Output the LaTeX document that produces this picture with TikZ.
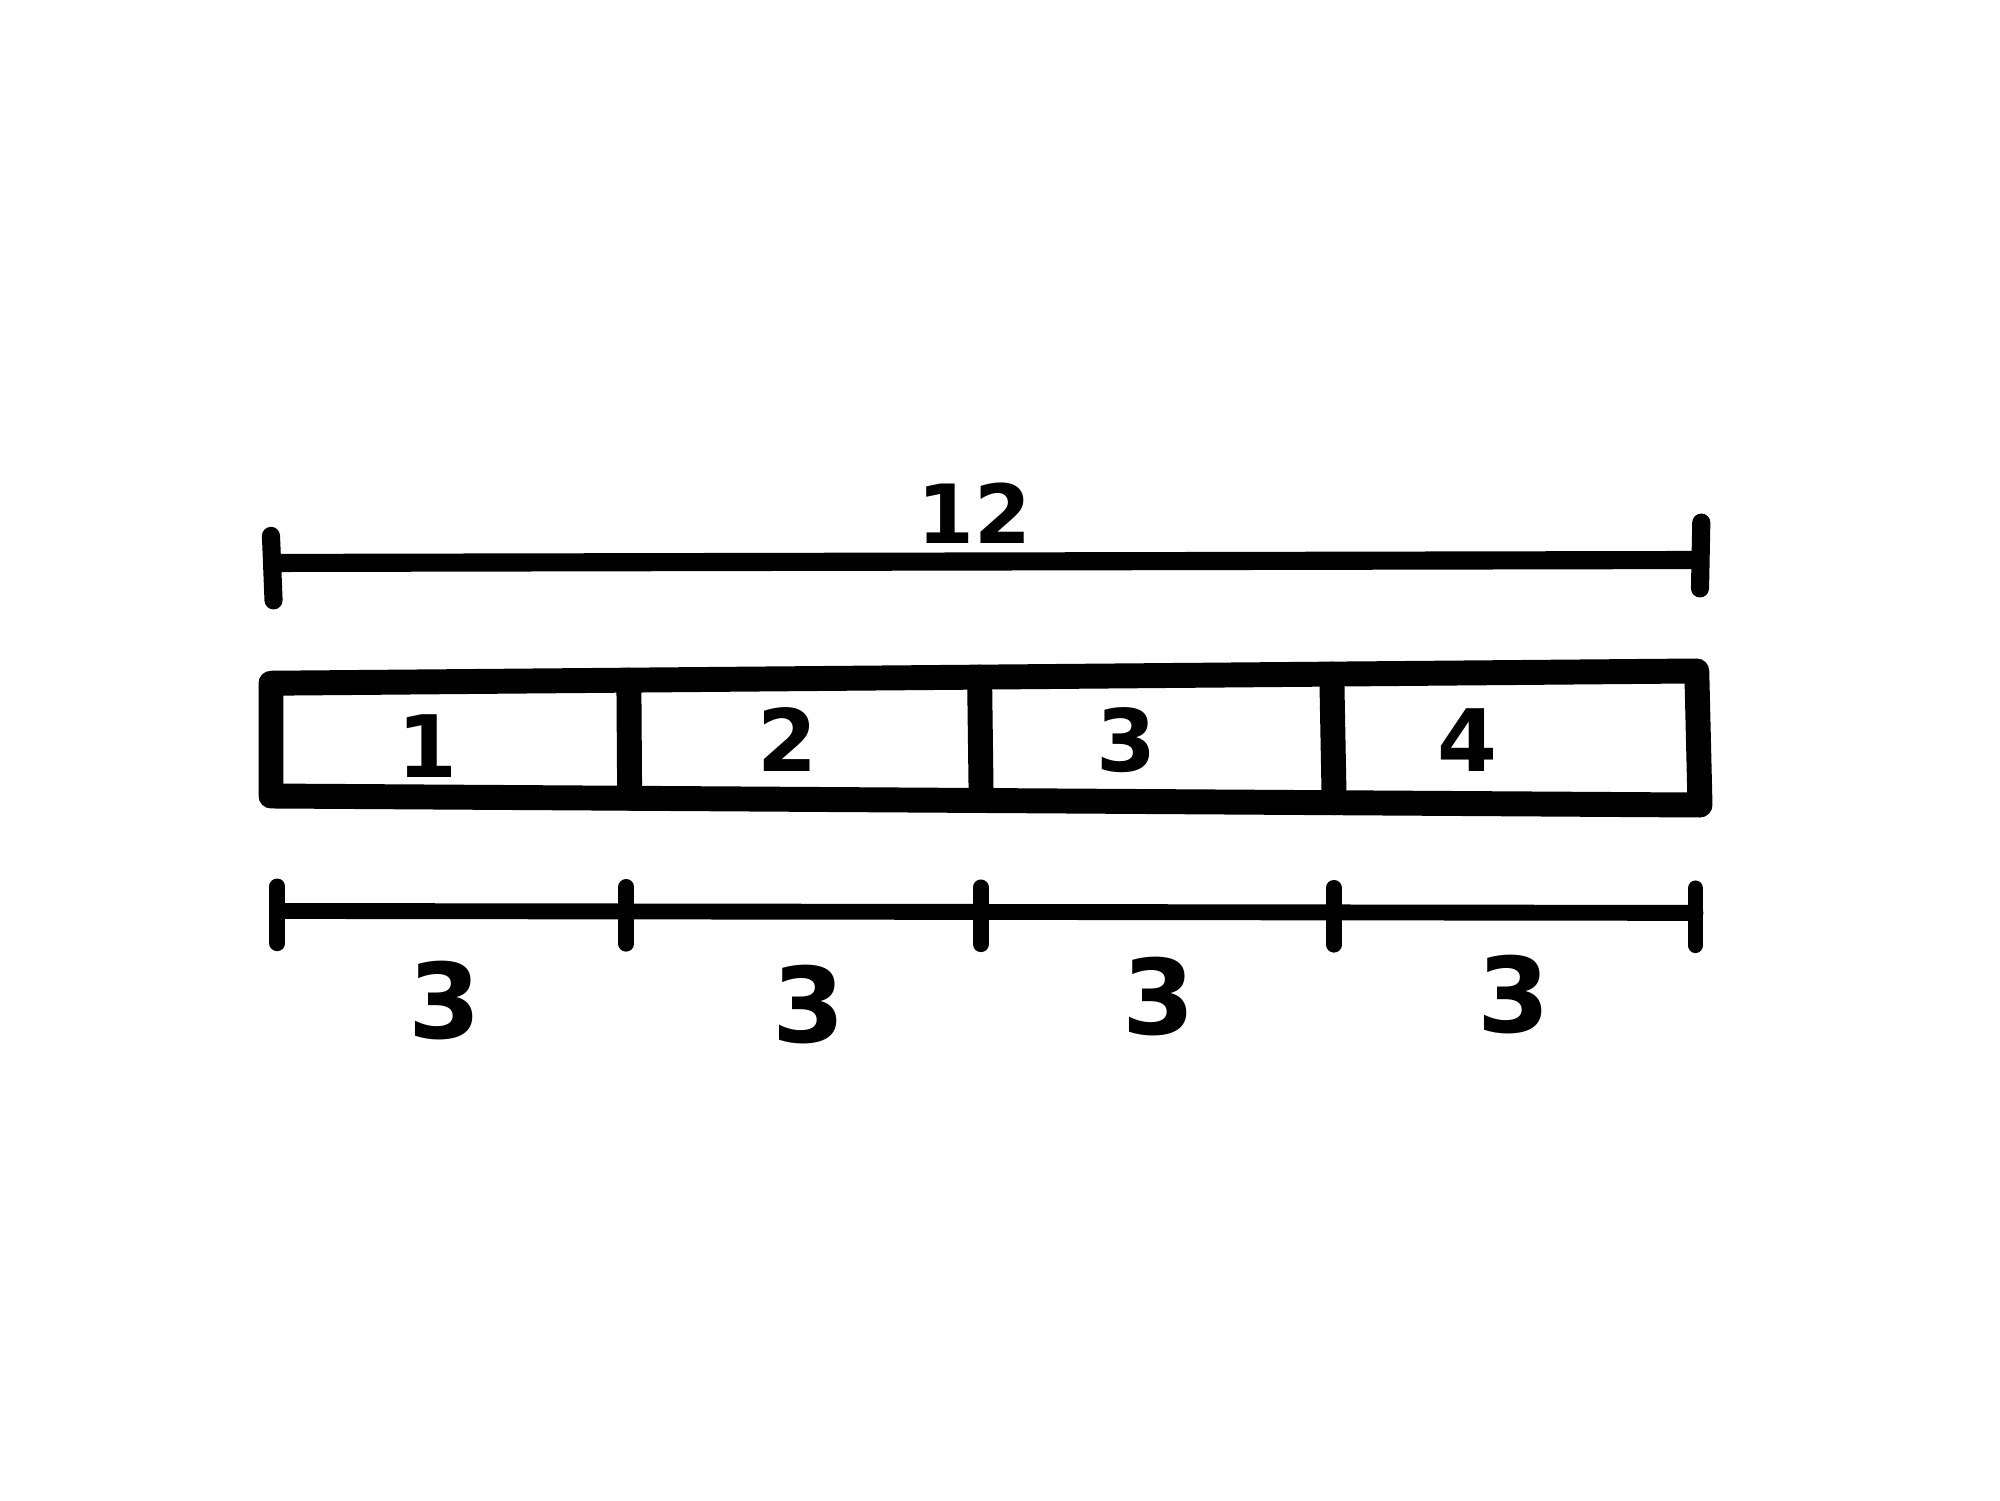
\documentclass[tikz,border=0pt]{standalone}
\usepackage{amsmath}
\usepackage{fontspec}
\setmainfont{DejaVu Sans}
\usetikzlibrary{calc}

\begin{document}
\begin{tikzpicture}[line cap=round, line join=round,
    mera/.style={line width=4pt},
    mera2/.style={line width=3.5pt},
    ramka/.style={line width=5.5pt},
    cifra/.style={font=\fontsize{19}{19}\selectfont\bfseries},
    dlina/.style={font=\fontsize{23}{23}\selectfont\bfseries}]

    \useasboundingbox (0,0) rectangle (15.5,11.625);

    % Общая длина полоски
    \coordinate (P) at (2.11,7.262);
    \coordinate (Q) at (13.175,7.285);
    \draw[mera] (P) -- (Q);
    \draw[mera] ($(P)+(-0.01,0.21)$) -- ($(P)+(0.01,-0.29)$); % левая засечка
    \draw[mera] ($(Q)+(0.01,0.29)$) -- ($(Q)+(0,-0.22)$);     % правая засечка
    \node[cifra,font=\fontsize{18}{18}\selectfont\bfseries] (obsh) at (7.55,7.65) {12};

    % Полоска из четырех частей
    \coordinate (A) at (2.10,6.33);
    \coordinate (B) at (13.15,6.425);
    \coordinate (C) at (13.175,5.386);
    \coordinate (D) at (2.10,5.456);
    \draw[ramka] (A) -- (B) -- (C) -- (D) -- cycle;

    % Перегородки между частями
    \foreach \t in {0.251,0.497,0.744}
        \draw[ramka] ($(A)!\t!(B)$) -- ($(D)!\t!(C)$);

    % Номера частей
    \node[cifra] (n1) at (3.31,5.84) {1};
    \node[cifra] (n2) at (6.10,5.89) {2};
    \node[cifra] (n3) at (8.73,5.89) {3};
    \node[cifra] (n4) at (11.37,5.89) {4};

    % Длины частей
    \coordinate (L) at (2.15,4.565);
    \coordinate (R) at (13.14,4.55);
    \draw[mera2] (L) -- (R);
    \foreach \t in {0,0.246,0.496,0.745,1}
        \draw[mera2] ($(L)!\t!(R)+(0,0.19)$) -- ($(L)!\t!(R)+(0,-0.25)$);

    \node[dlina] (d1) at (3.45,3.87) {3};
    \node[dlina] (d2) at (6.27,3.84) {3};
    \node[dlina] (d3) at (8.98,3.90) {3};
    \node[dlina] (d4) at (11.73,3.92) {3};

\end{tikzpicture}
\end{document}
